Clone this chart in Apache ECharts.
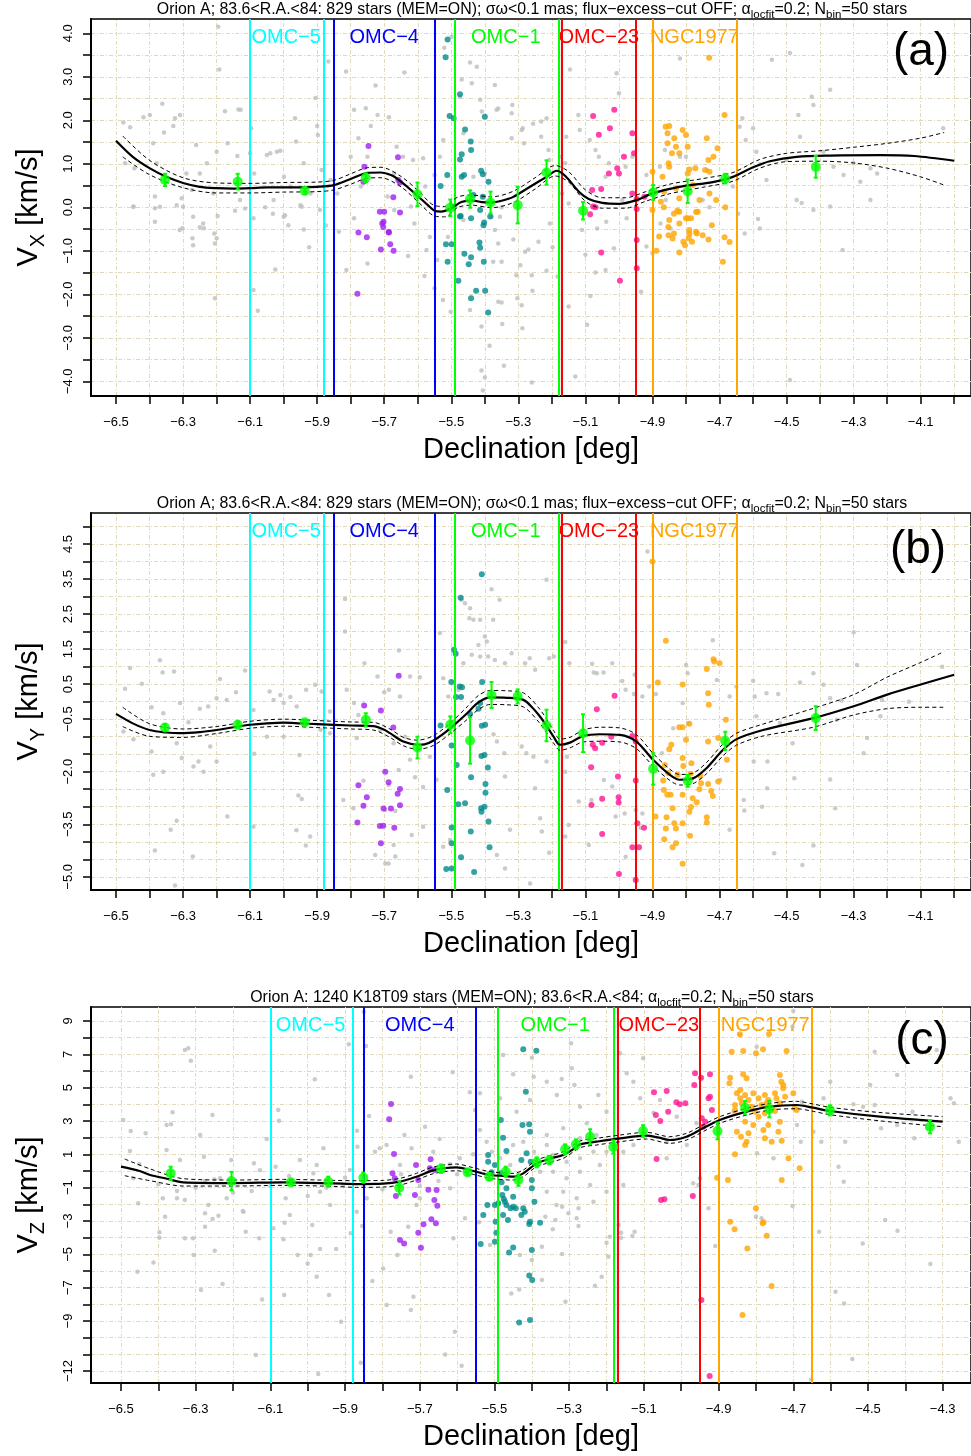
<!DOCTYPE html>
<html><head><meta charset="utf-8">
<script src="https://cdn.jsdelivr.net/npm/echarts@6/dist/echarts.min.js"></script>
<style>html,body{margin:0;padding:0;background:#fff}#c{width:971px;height:1456px}</style>
</head><body><div id="c"></div>
<script>
const FONT = '"Liberation Sans", Arial, Helvetica, sans-serif';

// ---------- tick labels ----------
const xTicksAB = [-6.5,-6.4,-6.3,-6.2,-6.1,-6.0,-5.9,-5.8,-5.7,-5.6,-5.5,-5.4,-5.3,-5.2,-5.1,-5.0,-4.9,-4.8,-4.7,-4.6,-4.5,-4.4,-4.3,-4.2,-4.1,-4.0];
const xLabelsAB = [-6.5,-6.3,-6.1,-5.9,-5.7,-5.5,-5.3,-5.1,-4.9,-4.7,-4.5,-4.3,-4.1];
const xTicksC = [-6.5,-6.4,-6.3,-6.2,-6.1,-6.0,-5.9,-5.8,-5.7,-5.6,-5.5,-5.4,-5.3,-5.2,-5.1,-5.0,-4.9,-4.8,-4.7,-4.6,-4.5,-4.4,-4.3];
const xLabelsC = [-6.5,-6.3,-6.1,-5.9,-5.7,-5.5,-5.3,-5.1,-4.9,-4.7,-4.5,-4.3];
const yTicksA = [-4,-3.5,-3,-2.5,-2,-1.5,-1,-0.5,0,0.5,1,1.5,2,2.5,3,3.5,4];
const yLabelsA = [-4,-3,-2,-1,0,1,2,3,4];
const yTicksB = [-5,-4.5,-4,-3.5,-3,-2.5,-2,-1.5,-1,-0.5,0,0.5,1,1.5,2,2.5,3,3.5,4,4.5,5];
const yLabelsB = [4.5,3.5,2.5,1.5,0.5,-0.5,-2,-3.5,-5];
const yTicksC = [-12,-11,-10,-9,-8,-7,-6,-5,-4,-3,-2,-1,0,1,2,3,4,5,6,7,8,9];
const yLabelsC = [9,7,5,3,1,-1,-3,-5,-7,-9,-12];

// ---------- regions ----------
const regionNames = ['OMC−5','OMC−4','OMC−1','OMC−23','NGC1977'];
const regionColors = ['#00FFFF','#0000FF','#00FF00','#FF0000','#FFA500'];
const regionStart = [-6.1,-5.85,-5.49,-5.175,-4.9];
const regionEnd = [-5.885,-5.55,-5.185,-4.945,-4.65];

// ---------- panel (a) ----------
const greyA = [[-6.478,1.95],[-6.458,1.84],[-6.418,2.07],[-6.399,2.12],[-6.362,2.38],[-6.357,1.72],[-6.329,1.87],[-6.309,2.12],[-6.324,2.05],[-6.445,0.90],[-6.473,1.01],[-6.389,1.47],[-6.379,1.01],[-6.195,4.15],[-6.192,3.17],[-6.261,1.43],[-6.229,1.01],[-6.2,1.28],[-6.175,2.21],[-6.167,1.47],[-6.135,2.25],[-6.128,2.24],[-6.138,1.18],[-6.21,0.32],[-6.25,0.78],[-6.274,0.40],[-6.304,0.21],[-6.384,0.25],[-6.448,0.02],[-6.1,1.24],[-6.097,1.82],[-6.05,1.2],[-6.04,1.24],[-6.02,1.28],[-6.01,1.3],[-5.966,2.05],[-5.963,1.51],[-5.94,1.01],[-5.905,2.51],[-5.9,1.87],[-5.898,1.66],[-5.867,3.35],[-5.887,0.86],[-5.814,3.12],[-5.79,2.24],[-5.755,2.28],[-5.726,2.80],[-5.72,2.12],[-5.686,2.07],[-5.74,1.87],[-5.777,1.59],[-5.64,3.10],[-5.663,1.39],[-5.644,1.16],[-5.614,1.09],[-5.584,1.13],[-5.521,3.67],[-5.499,3.92],[-5.444,3.33],[-5.469,2.94],[-5.439,2.85],[-5.474,2.54],[-5.414,2.47],[-5.424,3.23],[-5.409,2.2],[-5.464,1.70],[-5.524,1.55],[-5.534,1.16],[-5.75,1.16],[-5.8,1.16],
[-6.088,0.78],[-5.999,0.70],[-5.98,0.48],[-5.92,0.32],[-5.86,0.63],[-5.84,0.32],[-5.69,0.25],[-5.62,0.02],[-5.55,0.74],[-5.578,0.48],[-5.434,0.70],[-5.4,0.78],[-6.29,0.78],[-6.13,0.17],[-6.03,0.17],[-5.95,0.05],[-5.77,0.48],[-5.67,0.78],
[-6.448,0.01],[-6.384,-0.02],[-6.369,0.01],[-6.384,-0.33],[-6.319,0.05],[-6.3,0.01],[-6.302,-0.48],[-6.31,-0.52],[-6.27,-0.22],[-6.272,-0.71],[-6.27,-0.87],[-6.25,-0.46],[-6.24,-0.37],[-6.238,-0.48],[-6.207,-0.6],[-6.2,-0.71],[-6.205,-0.83],[-6.205,-2.09],[-6.197,-0.2],[-6.145,-0.08],[-6.115,-0.03],[-6.09,-0.25],[-6.09,-1.9],[-6.077,-2.38],[-6.055,0],[-6.032,-0.15],[-6.0,-0.22],[-5.996,-0.18],[-5.986,-0.41],[-6.025,-1.43],[-5.946,0.01],[-5.94,-0.51],[-5.924,-0.92],[-5.892,-0.06],[-5.874,-0.42],[-5.835,-0.56],[-5.813,-1.44],[-5.79,-0.25],[-5.75,-1.29],[-5.67,-0.06],[-5.629,-1.12],[-5.61,-0.37],[-5.58,-1.58],[-5.55,-1.86],[-5.525,-2.13],[-5.574,-0.98],[-5.564,-0.68],[-5.542,-1.21],[-5.502,-2.4],[-5.51,-0.68],[-5.41,-2.74],[-5.41,-3.75],[-5.4,-3.91],[-5.406,-4.21],[-5.386,-3.18],[-5.38,-0.22],[-5.464,-0.29],[-5.444,-2.36],
[-5.37,2.81],[-5.365,2.24],[-5.36,2.27],[-5.32,2.16],[-5.318,2.35],[-5.32,1.59],[-5.29,1.78],[-5.287,1.82],[-5.283,1.47],[-5.256,1.92],[-5.232,1.97],[-5.232,1.62],[-5.216,2.05],[-5.21,1.32],[-5.208,1.09],[-5.176,1.16],[-5.16,1.01],[-5.146,3.17],[-5.157,1.62],[-5.121,2.12],[-5.117,1.78],[-5.087,1.55],[-5.07,1.32],[-5.06,1.16],[-5.04,0.7],[-5.03,1.01],[-5.007,3.08],[-5.0,2.62],[-4.98,0.93],[-4.96,1.16],[-4.918,0.74],[-4.878,0.93],[-4.863,1.32],[-4.818,3.42],[-4.818,1.16],[-4.8,1.16],[-4.738,0.86],[-4.64,1.85],[-4.632,2.05],[-4.622,1.55],[-4.6,1.82],[-4.59,1.28],[-4.58,0.99],[-4.544,3.39],[-4.49,3.55],[-4.5,1.09],[-4.46,1.62],[-4.465,2.12],[-4.425,2.54],[-4.37,2.7],[-4.42,2.35],[-4.39,1.28],[-4.36,0.93],[-4.33,0.74],[-4.3,1.01],[-4.28,0.59],[-4.25,0.9],[-4.23,0.78],[-4.033,1.82],[-5.17,0.32],[-5.15,0.09],[-4.99,0.17],[-4.86,0.17],[-4.75,0.17],[-4.66,0.48],[-4.56,0.63],[-4.47,0.17],[-4.37,0.02],[-4.25,0.17],
[-5.355,-0.22],[-5.35,0.0],[-5.37,-0.52],[-5.36,-0.83],[-5.375,-1.25],[-5.35,-1.25],[-5.36,-2.17],[-5.35,-2.19],[-5.348,-2.68],[-5.343,-3.64],[-5.306,-1.56],[-5.303,-2.09],[-5.29,-2.25],[-5.288,-2.78],[-5.315,-0.74],[-5.294,-1.33],[-5.28,-1.02],[-5.27,-0.97],[-5.26,-1.56],[-5.26,-4.03],[-5.258,-1.92],[-5.24,-0.79],[-5.216,-1.46],[-5.206,-0.37],[-5.198,-0.92],[-5.183,-1.59],[-5.15,-2.28],[-5.13,-3.89],[-5.11,-0.52],[-5.1,-1.09],[-5.095,-2.7],[-5.085,-2.04],[-5.07,-1.5],[-5.065,-0.49],[-5.04,-1.44],[-5.038,-0.33],[-5.015,-0.94],[-4.977,-0.25],[-4.934,-1.94],[-4.918,-0.9],[-4.9,-1.06],[-4.876,-0.37],[-4.846,-0.49],[-4.73,0.0],[-4.645,-0.15],[-4.625,-0.6],[-4.585,-0.27],[-4.58,-0.49],[-4.49,-3.97],[-4.42,-0.06],[-4.333,-0.98],[-4.455,0.1]];
const purpleA = [[-5.747,1.41],[-5.759,0.93],[-5.659,1.15],[-5.658,0.63],[-5.653,0.57],[-5.762,0.59],[-5.673,0.23],[-5.777,-0.58],[-5.752,-0.69],[-5.702,-0.33],[-5.687,-0.57],[-5.713,-0.1],[-5.7,-0.1],[-5.706,-0.37],[-5.703,-0.45],[-5.686,-0.58],[-5.653,-0.12],[-5.682,-0.85],[-5.71,-0.97],[-5.672,-1.0],[-5.78,-1.99]];
const tealA = [[-5.511,3.86],[-5.517,3.45],[-5.474,2.6],[-5.505,2.1],[-5.493,2.05],[-5.459,1.79],[-5.442,1.51],[-5.441,1.32],[-5.469,1.22],[-5.474,1.1],[-5.4,2.08],[-5.411,0.84],[-5.532,0.49],[-5.512,0.74],[-5.469,0.7],[-5.462,0.74],[-5.434,0.28],[-5.474,-0.21],[-5.441,-0.25],[-5.414,-0.06],[-5.404,-0.41],[-5.384,-0.21],[-5.493,0.02],[-5.516,-0.85],[-5.499,-0.85],[-5.511,-1.25],[-5.479,-1.69],[-5.461,-1.07],[-5.441,-1.15],[-5.448,-1.31],[-5.416,-0.81],[-5.414,-0.93],[-5.403,-1.25],[-5.441,-2.09],[-5.426,-1.92],[-5.39,-2.42],[-5.402,-0.35],[-5.472,-0.2],[-5.406,0.76],[-5.406,0.24],[-5.389,0.59],[-5.399,-1.92]];
const pinkA = [[-5.077,2.1],[-5.014,2.24],[-5.027,1.82],[-5.06,1.67],[-4.96,1.7],[-4.955,1.24],[-4.985,1.16],[-5.005,0.9],[-5.03,0.78],[-5.0,0.78],[-5.053,0.42],[-5.08,0.4],[-4.96,0.32],[-4.947,0.19],[-5.077,0.02],[-4.947,-0.04],[-4.924,0.24],[-4.947,-0.75],[-5.086,-0.16],[-5.07,0.0],[-5.053,-1.04],[-4.947,-1.4],[-4.997,-1.69]];
const orangeA = [[-4.731,3.44],[-4.685,2.12],[-4.861,1.85],[-4.85,1.87],[-4.855,1.7],[-4.855,1.47],[-4.835,1.59],[-4.81,1.78],[-4.8,1.66],[-4.795,1.39],[-4.83,1.39],[-4.842,1.24],[-4.82,1.24],[-4.738,1.59],[-4.706,1.36],[-4.718,1.16],[-4.733,1.09],[-4.743,0.86],[-4.73,0.82],[-4.852,1.01],[-4.85,0.93],[-4.79,0.87],[-4.772,0.9],[-4.795,0.78],[-4.9,0.82],[-4.87,0.7],[-4.83,0.44],[-4.78,0.51],[-4.73,0.32],[-4.865,0.36],[-4.875,0.13],[-4.9,0.32],[-4.9,-0.06],[-4.71,0.17],[-4.82,0.21],[-4.76,0.17],[-4.82,-0.1],[-4.77,-0.11],[-4.683,0.0],[-4.85,-0.29],[-4.795,-0.25],[-4.79,-0.52],[-4.77,-0.56],[-4.852,-0.64],[-4.79,-0.61],[-4.685,-0.69],[-4.88,-0.67],[-4.888,-1.0],[-4.853,-0.45],[-4.836,-0.6],[-4.84,-0.72],[-4.82,-1.04],[-4.808,-0.79],[-4.803,-0.87],[-4.792,-0.71],[-4.782,-0.79],[-4.768,-0.6],[-4.75,-0.64],[-4.733,-0.74],[-4.723,-0.41],[-4.69,-1.25],[-4.67,-0.8],[-4.866,0.0],[-4.836,-0.15],[-4.826,-0.08],[-4.8,-0.25],[-4.82,-0.37],[-4.785,-0.25],[-4.765,-0.1]];
const curveA = [[-6.5,1.53],[-6.45,1.16],[-6.4,0.9],[-6.35,0.70],[-6.3,0.56],[-6.25,0.47],[-6.2,0.44],[-6.15,0.43],[-6.1,0.44],[-6.05,0.46],[-6.0,0.46],[-5.95,0.46],[-5.9,0.47],[-5.85,0.51],[-5.8,0.65],[-5.75,0.79],[-5.71,0.80],[-5.68,0.74],[-5.65,0.59],[-5.6,0.26],[-5.57,0.05],[-5.55,-0.08],[-5.53,-0.10],[-5.5,-0.02],[-5.47,0.12],[-5.44,0.16],[-5.41,0.12],[-5.38,0.11],[-5.35,0.15],[-5.315,0.24],[-5.27,0.45],[-5.216,0.70],[-5.186,0.84],[-5.16,0.72],[-5.117,0.34],[-5.09,0.19],[-5.05,0.10],[-5.0,0.08],[-4.95,0.16],[-4.9,0.32],[-4.82,0.47],[-4.72,0.58],[-4.66,0.70],[-4.6,0.92],[-4.55,1.06],[-4.47,1.16],[-4.37,1.19],[-4.22,1.2],[-4.12,1.18],[-4.0,1.07]];
const bandXA = [-6.48,-6.4,-6.3,-6.2,-6.1,-6.0,-5.9,-5.85,-5.8,-5.75,-5.71,-5.65,-5.6,-5.55,-5.52,-5.48,-5.44,-5.38,-5.315,-5.25,-5.19,-5.15,-5.1,-5.05,-4.98,-4.92,-4.85,-4.75,-4.66,-4.58,-4.5,-4.4,-4.3,-4.2,-4.1,-4.03];
const upA = [1.64,1.08,0.68,0.56,0.55,0.57,0.58,0.62,0.77,0.91,0.92,0.71,0.39,0.04,0.02,0.24,0.28,0.24,0.37,0.68,0.96,0.82,0.40,0.22,0.22,0.36,0.53,0.66,0.80,1.1,1.24,1.3,1.38,1.47,1.59,1.72];
const loA = [1.16,0.75,0.45,0.33,0.33,0.35,0.36,0.40,0.53,0.67,0.68,0.47,0.13,-0.2,-0.22,0.0,0.05,-0.01,0.11,0.42,0.72,0.58,0.14,-0.02,-0.02,0.14,0.31,0.46,0.60,0.9,1.05,1.06,1.02,0.9,0.70,0.51];
const meansA = [[-6.354,0.63,0.14],[-6.137,0.59,0.18],[-5.937,0.38,0.08],[-5.755,0.68,0.1],[-5.601,0.30,0.27],[-5.503,-0.01,0.19],[-5.444,0.19,0.2],[-5.383,0.11,0.25],[-5.302,0.05,0.42],[-5.216,0.80,0.28],[-5.107,-0.08,0.2],[-4.898,0.34,0.17],[-4.795,0.37,0.27],[-4.683,0.66,0.11],[-4.413,0.93,0.25]];

// ---------- panel (b) ----------
const greyB = [[-6.473,0.37],[-6.458,0.96],[-6.423,0.51],[-6.394,-0.16],[-6.369,1.18],[-6.361,0.83],[-6.327,0.86],[-6.359,-0.33],[-6.309,-0.04],[-6.284,-0.59],[-6.25,-0.2],[-6.225,-0.14],[-6.19,0.65],[-6.2,0.1],[-6.17,0.05],[-6.142,0.27],[-6.115,0.89],[-6.09,-0.24],[-6.042,0.29],[-6.03,0.05],[-6.01,0.19],[-6.0,-0.04],[-5.98,0.13],[-5.961,-0.14],[-5.933,0.34],[-5.906,0.48],[-5.887,0.29],[-5.862,-0.28],[-5.817,2.93],[-5.817,2.0],[-5.812,0.34],[-5.79,-0.04],[-5.759,1.1],[-5.72,0.72],[-5.7,0.27],[-5.686,0.34],[-5.656,1.46],[-5.653,0.15],[-5.623,0.72],[-5.594,0.7],[-5.534,1.96],[-5.524,0.67],[-5.469,2.91],[-5.459,2.81],[-5.444,2.67],[-5.446,2.38],[-5.434,2.34],[-5.414,2.34],[-5.419,1.62],[-5.414,1.29],[-5.439,1.34],[-5.464,1.1],[-5.394,1.72],[-5.479,0.34],[-5.509,0.15],
[-6.478,-0.85],[-6.448,-1.07],[-6.394,-1.42],[-6.389,-2.09],[-6.359,-2.0],[-6.319,-1.19],[-6.304,-1.61],[-6.269,-1.85],[-6.254,-1.71],[-6.239,-2.0],[-6.219,-1.28],[-6.2,-1.71],[-6.319,-3.4],[-6.337,-3.66],[-6.384,-4.25],[-6.324,-5.25],[-6.271,-4.42],[-6.168,-3.28],[-6.09,-3.57],[-6.088,-1.49],[-6.05,-1.0],[-6.0,-1.0],[-5.953,-1.52],[-5.956,-2.68],[-5.946,-2.78],[-5.962,-3.67],[-5.934,-4.11],[-5.921,-3.85],[-5.89,-0.8],[-5.862,-0.9],[-5.822,-2.81],[-5.792,-3.04],[-5.782,-1.04],[-5.762,-2.26],[-5.727,-4.38],[-5.697,-4.62],[-5.687,-4.62],[-5.672,-4.09],[-5.667,-4.42],[-5.657,-1.95],[-5.687,-2.38],[-5.697,-3.09],[-5.667,-3.12],[-5.623,-1.66],[-5.608,-2.16],[-5.584,-2.44],[-5.618,-3.81],[-5.584,-3.57],[-5.524,-4.14],[-5.544,-2.23],[-5.564,-1.57],[-5.504,-3.95],[-5.638,-1.0],[-5.672,-1.19],[-5.712,-0.81],[-5.777,-0.38],
[-5.38,3.21],[-5.356,2.91],[-5.375,2.34],[-5.216,3.48],[-5.4,1.86],[-5.39,1.29],[-5.37,1.19],[-5.34,1.1],[-5.32,1.38],[-5.28,1.1],[-5.266,1.24],[-5.25,0.91],[-5.208,1.24],[-5.194,1.29],[-5.16,1.7],[-5.148,1.1],[-5.08,1.08],[-5.075,0.83],[-5.066,0.81],[-5.046,0.83],[-5.02,1.1],[-4.99,0.59],[-4.98,0.34],[-4.955,0.22],[-4.953,0.77],[-4.93,0.15],[-4.915,4.29],[-4.91,0.43],[-4.89,0.22],[-4.8,1.05],[-4.795,0.81],[-4.81,-0.04],[-4.72,1.75],[-4.708,0.62],[-4.67,0.15],[-4.65,0.43],[-4.6,0.6],[-4.595,0.15],[-4.59,-0.42],[-4.56,0.24],[-4.525,0.22],[-4.46,0.55],[-4.42,0.81],[-4.37,0.1],[-4.336,0.03],[-4.3,1.98],[-4.29,1.05],[-4.215,0.05],[-4.135,0.0],[-4.036,1.0],[-4.39,0.48],[-4.52,-0.61],
[-5.374,-0.93],[-5.364,-1.14],[-5.364,-4.38],[-5.342,-1.47],[-5.34,-2.14],[-5.34,-4.76],[-5.325,-3.66],[-5.29,-1.28],[-5.276,-1.47],[-5.255,-1.57],[-5.25,-2.47],[-5.235,-3.33],[-5.23,-3.71],[-5.265,-5.19],[-5.216,-1.71],[-5.208,-4.31],[-5.16,-3.85],[-5.15,-3.52],[-5.16,-2.0],[-5.155,-1.57],[-5.12,-2.85],[-5.09,-4.09],[-5.082,-2.81],[-5.045,-2.24],[-5.02,-2.42],[-5.01,-3.28],[-4.983,-3.19],[-4.95,-3.09],[-4.93,-3.19],[-4.935,-3.6],[-4.98,-4.43],[-4.872,-1.47],[-4.838,-0.76],[-4.793,-0.62],[-4.698,-2.24],[-4.67,-3.66],[-4.628,-2.81],[-4.626,-3.11],[-4.598,-1.71],[-4.573,-3.0],[-4.557,-1.71],[-4.558,-2.47],[-4.537,-4.33],[-4.477,-2.19],[-4.482,-1.19],[-4.453,-4.66],[-4.42,-4.11],[-4.37,-2.22],[-4.355,-3.04],[-4.27,-1.47],[-4.26,-1.04],[-4.35,-0.52],[-4.22,-0.42]];
const purpleB = [[-5.76,-0.11],[-5.71,-0.25],[-5.657,0.74],[-5.673,-0.74],[-5.697,-2.0],[-5.777,-2.39],[-5.752,-2.73],[-5.762,-2.97],[-5.687,-2.3],[-5.653,-2.49],[-5.66,-2.63],[-5.653,-2.96],[-5.702,-3.05],[-5.68,-3.05],[-5.78,-3.45],[-5.713,-3.55],[-5.703,-3.54],[-5.67,-3.6],[-5.71,-4.04]];
const tealB = [[-5.409,3.64],[-5.472,2.97],[-5.492,1.48],[-5.487,1.37],[-5.475,0.43],[-5.468,0.41],[-5.5,0.56],[-5.408,0.56],[-5.471,0.13],[-5.486,0.13],[-5.414,-0.04],[-5.419,-0.2],[-5.532,-0.68],[-5.399,-0.66],[-5.444,-0.35],[-5.499,-1.25],[-5.484,-1.81],[-5.401,-1.52],[-5.391,-1.88],[-5.512,-2.52],[-5.479,-2.93],[-5.459,-2.9],[-5.441,-2.16],[-5.411,-3.04],[-5.401,-3.0],[-5.398,-2.35],[-5.398,-2.6],[-5.389,-3.42],[-5.499,-3.59],[-5.499,-4.04],[-5.442,-3.71],[-5.386,-4.16],[-5.471,-4.44],[-5.515,-4.78],[-5.499,-4.76],[-5.432,-4.86],[-5.409,-0.69],[-5.41,-1.55],[-5.41,-3.14]];
const pinkB = [[-5.013,0.17],[-5.066,-0.22],[-4.96,-0.98],[-5.023,-1.0],[-5.05,-1.17],[-5.078,-1.23],[-5.071,-1.33],[-4.95,-1.14],[-5.083,-1.87],[-5.003,-2.14],[-4.95,-2.25],[-5.05,-2.77],[-5.001,-2.73],[-5.001,-2.88],[-5.082,-2.95],[-4.945,-3.47],[-4.925,-3.6],[-5.05,-3.78],[-4.96,-4.16],[-4.94,-4.16],[-5.0,-4.92],[-4.95,-5.09]];
const orangeB = [[-4.9,4.0],[-4.86,1.74],[-4.884,0.55],[-4.81,0.49],[-4.734,0.24],[-4.732,-0.09],[-4.738,0.93],[-4.718,1.21],[-4.716,1.15],[-4.7,1.1],[-4.681,-0.52],[-4.82,-0.73],[-4.81,-0.73],[-4.79,-0.63],[-4.8,-1.09],[-4.734,-1.14],[-4.704,-1.04],[-4.678,-1.66],[-4.81,-1.61],[-4.844,-1.23],[-4.85,-1.36],[-4.784,-1.76],[-4.808,-1.84],[-4.863,-1.81],[-4.853,-2.04],[-4.868,-2.25],[-4.825,-2.09],[-4.786,-2.06],[-4.757,-2.12],[-4.755,-2.33],[-4.734,-2.35],[-4.704,-2.28],[-4.76,-2.5],[-4.725,-2.55],[-4.72,-2.69],[-4.866,-2.52],[-4.846,-2.66],[-4.856,-2.66],[-4.81,-2.66],[-4.78,-2.76],[-4.768,-2.87],[-4.84,-3.04],[-4.785,-3.01],[-4.79,-3.14],[-4.891,-3.28],[-4.858,-3.3],[-4.81,-3.47],[-4.835,-3.47],[-4.83,-3.62],[-4.738,-3.3],[-4.738,-3.45],[-4.86,-3.62],[-4.865,-3.93],[-4.788,-3.83],[-4.83,-4.04],[-4.84,-4.16],[-4.81,-4.63]];
const curveB = [[-6.5,-0.35],[-6.45,-0.62],[-6.4,-0.81],[-6.35,-0.88],[-6.31,-0.90],[-6.25,-0.87],[-6.2,-0.81],[-6.15,-0.73],[-6.1,-0.66],[-6.05,-0.62],[-6.0,-0.60],[-5.95,-0.62],[-5.9,-0.64],[-5.8,-0.68],[-5.733,-0.70],[-5.7,-0.80],[-5.683,-0.90],[-5.643,-1.14],[-5.6,-1.23],[-5.58,-1.22],[-5.553,-1.11],[-5.503,-0.76],[-5.453,-0.33],[-5.42,-0.03],[-5.384,0.12],[-5.334,0.11],[-5.285,0.05],[-5.26,-0.15],[-5.235,-0.43],[-5.216,-0.69],[-5.195,-1.0],[-5.176,-1.23],[-5.146,-1.17],[-5.107,-0.98],[-5.057,-0.93],[-4.997,-0.95],[-4.948,-1.14],[-4.898,-1.66],[-4.848,-2.09],[-4.819,-2.23],[-4.779,-2.19],[-4.739,-1.90],[-4.69,-1.38],[-4.649,-1.07],[-4.57,-0.81],[-4.42,-0.47],[-4.3,-0.13],[-4.2,0.2],[-4.1,0.49],[-4.0,0.77]];
const bandXB = [-6.48,-6.4,-6.3,-6.2,-6.1,-6.0,-5.9,-5.8,-5.733,-5.683,-5.643,-5.6,-5.553,-5.503,-5.453,-5.42,-5.384,-5.334,-5.285,-5.235,-5.195,-5.176,-5.146,-5.107,-5.057,-4.997,-4.948,-4.898,-4.848,-4.819,-4.779,-4.739,-4.69,-4.649,-4.57,-4.42,-4.3,-4.2,-4.1,-4.03];
const upB = [-0.16,-0.63,-0.78,-0.71,-0.56,-0.50,-0.54,-0.58,-0.59,-0.78,-1.02,-1.10,-0.97,-0.61,-0.15,0.17,0.32,0.31,0.25,-0.23,-0.82,-1.07,-1.02,-0.81,-0.73,-0.75,-0.94,-1.48,-1.93,-2.08,-2.04,-1.74,-1.21,-0.90,-0.64,-0.19,0.2,0.7,1.12,1.43];
const loB = [-0.71,-0.99,-1.02,-0.91,-0.76,-0.70,-0.74,-0.78,-0.81,-1.02,-1.26,-1.36,-1.25,-0.91,-0.51,-0.23,-0.08,-0.09,-0.15,-0.63,-1.18,-1.39,-1.32,-1.15,-1.13,-1.15,-1.34,-1.84,-2.25,-2.38,-2.34,-2.06,-1.55,-1.24,-0.98,-0.73,-0.38,-0.2,-0.16,-0.16];
const meansB = [[-6.354,-0.74,0.1],[-6.137,-0.66,0.1],[-5.937,-0.59,0.07],[-5.755,-0.52,0.19],[-5.601,-1.31,0.31],[-5.503,-0.66,0.24],[-5.444,-1.11,0.66],[-5.38,0.19,0.37],[-5.302,0.15,0.2],[-5.216,-0.68,0.45],[-5.107,-0.90,0.54],[-4.898,-1.92,0.45],[-4.795,-2.26,0.17],[-4.683,-1.12,0.26],[-4.413,-0.47,0.34]];

// ---------- panel (c) ----------
const greyC = [[-6.494,3.06],[-6.474,2.4],[-6.434,2.26],[-6.476,1.2],[-6.451,0.42],[-6.467,-0.44],[-6.454,-1.94],[-6.378,2.76],[-6.366,2.8],[-6.362,3.52],[-6.378,1.26],[-6.329,7.26],[-6.32,7.36],[-6.313,6.62],[-6.388,-1.64],[-6.35,-1.64],[-6.342,0.66],[-6.329,-1.74],[-6.382,-2.74],[-6.288,2.16],[-6.278,0.86],[-6.275,-0.6],[-6.255,3.36],[-6.266,-2.04],[-6.235,-0.44],[-6.217,-1.64],[-6.205,0.66],[-6.172,-2.44],[-6.144,0.46],[-6.11,1.92],[-6.128,0.04],[-6.086,0.26],[-6.079,3.66],[-6.077,3.02],[-6.059,-1.64],[-6.021,0.66],[-5.985,-0.14],[-5.981,5.5],[-5.976,0.36],[-5.958,1.36],[-5.94,-2.04],[-5.905,-0.84],[-5.89,7.6],[-5.867,1.46],[-5.868,2.42],[-5.85,9.56],[-5.844,7.5],[-5.836,3.3],[-5.82,1.16],[-5.807,1.36],[-5.789,1.56],[-5.724,5.66],[-5.741,2.16],[-5.722,1.36],[-5.686,2.66],[-5.664,1.16],[-5.647,1.92],[-5.612,5.92],[-5.566,4.72],[-5.552,3.66],[-5.539,2.46],[-5.521,1.76],[-5.557,1.0],[-5.593,0.76],[-5.539,4.66],[-5.887,0.06],[-5.753,0.36],[-5.619,-1.04],[-5.842,-1.64],[-5.7,-1.64],[-5.967,-1.24],[-6.048,-2.64],
[-6.4,-0.8],[-6.3,-1.0],[-6.25,-0.5],[-6.15,-1.2],[-6.05,-0.3],[-5.95,-1.0],[-5.9,-0.4],[-5.8,-1.1],[-5.75,-0.2],[-5.65,-0.6],[-5.6,-0.2],[-6.2,-1.3],[-6.1,-0.9],[-6.0,-1.5],[-5.85,-0.9],[-5.7,-0.9],[-5.62,0.4],[-6.35,-1.2],
[-6.456,-6.04],[-6.413,-5.48],[-6.397,-4.0],[-6.397,-3.68],[-6.329,-4.04],[-6.307,-4.04],[-6.305,-5.04],[-6.286,-7.14],[-6.275,-3.34],[-6.275,-2.54],[-6.255,-2.88],[-6.249,-4.78],[-6.239,-2.68],[-6.228,-6.78],[-6.174,-2.4],[-6.166,-3.64],[-6.13,-4.04],[-6.122,-7.7],[-6.139,-11.04],[-6.092,-3.44],[-6.065,-4.1],[-6.063,-7.44],[-6.062,-3.1],[-6.027,-5.04],[-6.0,-5.54],[-5.992,-5.04],[-5.988,-3.24],[-5.976,-6.34],[-5.972,-12.18],[-5.967,-4.68],[-5.943,-7.44],[-5.924,-4.68],[-5.911,-9.04],[-5.885,-3.74],[-5.869,-2.44],[-5.858,-11.5],[-5.854,-3.3],[-5.827,-6.6],[-5.798,-5.84],[-5.789,-8.04],[-5.778,-3.64],[-5.76,-5.04],[-5.731,-3.34],[-5.724,-8.34],[-5.717,-7.54],[-5.709,-2.04],[-5.632,-11.0],[-5.61,-4.04],[-5.606,-9.64],[-5.588,-11.68],[-5.579,-2.84],[-5.541,-3.08],[-5.512,-4.44],
[-5.477,6.96],[-5.4,6.8],[-5.45,5.8],[-5.395,5.66],[-5.32,5.52],[-5.295,7.66],[-5.293,6.16],[-5.405,4.26],[-5.36,5.36],[-5.333,4.56],[-5.286,5.16],[-5.271,3.86],[-5.253,2.86],[-5.222,4.56],[-5.2,3.56],[-5.164,7.06],[-5.102,6.76],[-5.146,5.86],[-5.128,5.36],[-5.11,4.36],[-5.074,3.5],[-5.057,4.26],[-5.012,3.26],[-4.959,2.86],[-4.968,-0.74],[-4.954,-0.84],[-4.95,-0.44],[-4.843,8.16],[-4.798,7.46],[-4.7,9.6],[-4.702,8.66],[-4.677,4.16],[-4.69,2.76],[-4.646,2.36],[-4.601,5.36],[-4.619,4.36],[-4.539,4.0],[-4.561,1.76],[-4.494,5.16],[-4.579,0.26],[-4.565,-0.64],[-4.422,5.76],[-4.381,3.56],[-4.341,2.56],[-4.279,4.36],[-4.27,4.06],[-4.257,1.76],[-4.482,7.16],[-4.316,7.26],[-4.482,3.96],[-4.513,3.86],[-4.422,2.76],[-4.465,2.56],[-4.376,1.96],[-4.86,3.56],[-4.797,1.06],[-4.753,0.76],[-4.68,1.76],[-4.625,1.76],[-5.507,1.16],[-5.45,1.56],[-5.36,2.16],[-5.316,2.56],[-5.271,1.96],[-5.227,2.16],[-5.36,1.56],[-5.343,0.96],[-5.307,0.56],[-5.271,0.76],[-5.235,1.16],[-5.378,-0.04],[-5.343,-0.04],[-5.307,-0.44],[-5.271,-0.04],[-5.244,-0.84],[-5.218,0.36],[-5.2,1.16],[-5.316,-1.24],[-5.28,-1.64],[-5.235,-1.84],[-5.36,-1.24],[-5.334,-2.04],[-5.28,-2.84],[-5.2,-1.24],[-5.155,-0.84],[-5.155,1.16],[-5.128,1.56],[-5.039,0.76],[-4.985,1.56],[-5.039,1.76],[-5.423,1.76],[-5.394,1.16],[-5.458,0.36],[-5.485,0.76],[-5.441,3.56],[-5.485,4.36],
[-5.432,-5.04],[-5.434,-7.1],[-5.455,-7.34],[-5.373,-6.54],[-5.373,-4.54],[-5.4,-5.34],[-5.344,-3.5],[-5.319,-4.98],[-5.31,-7.84],[-5.275,-3.3],[-5.231,-6.88],[-5.213,-6.34],[-5.2,-4.3],[-5.195,-5.14],[-5.191,-3.94],[-5.168,-3.24],[-5.161,-3.7],[-5.161,-4.0],[-5.131,-3.9],[-5.125,-3.64],[-4.927,-2.24],[-4.909,-4.5],[-4.8,-2.74],[-4.785,-2.84],[-4.702,-2.1],[-4.631,-3.64],[-4.587,-7.24],[-4.564,-7.94],[-4.542,-11.28],[-4.652,-12.5],[-4.514,-4.34],[-4.454,-2.94],[-4.421,-3.58],[-4.333,-5.58],[-5.275,-2.24],[-5.302,-2.54],[-5.364,-2.74],[-5.319,-2.14],[-5.337,-2.94]];
const purpleC = [[-5.777,4.02],[-5.782,3.1],[-5.769,1.02],[-5.773,-0.14],[-5.767,-0.44],[-5.764,-1.5],[-5.71,0.36],[-5.671,0.7],[-5.704,-0.54],[-5.673,0.16],[-5.66,0.06],[-5.677,-1.12],[-5.713,-1.44],[-5.655,-1.14],[-5.661,-1.74],[-5.653,-2.08],[-5.69,-3.2],[-5.669,-2.9],[-5.657,-3.14],[-5.704,-3.7],[-5.753,-4.14],[-5.742,-4.34],[-5.697,-4.6]];
const tealC = [[-5.517,0.96],[-5.519,-2.04],[-5.537,-4.38],[-5.423,7.3],[-5.388,7.22],[-5.416,4.76],[-5.483,3.06],[-5.477,2.0],[-5.425,2.76],[-5.407,2.8],[-5.405,2.36],[-5.468,1.2],[-5.414,1.06],[-5.428,0.66],[-5.403,0.56],[-5.517,0.56],[-5.499,0.36],[-5.508,-0.08],[-5.484,-0.14],[-5.481,-0.68],[-5.468,-1.04],[-5.479,-1.44],[-5.475,-1.68],[-5.45,-1.54],[-5.49,-1.94],[-5.468,-2.04],[-5.45,-2.14],[-5.443,-2.24],[-5.499,-2.04],[-5.423,-2.24],[-5.4,-0.54],[-5.4,-1.04],[-5.428,-2.64],[-5.405,-3.04],[-5.477,-2.64],[-5.497,-3.04],[-5.53,-2.64],[-5.472,-1.84],[-5.457,-2.24],[-5.464,-2.94],[-5.495,-3.7],[-5.499,-4.24],[-5.45,-4.58],[-5.461,-4.88],[-5.419,-2.44],[-5.407,-3.18],[-5.378,-3.1],[-5.4,-4.74],[-5.407,-6.26],[-5.399,-6.54],[-5.434,-9.08],[-5.405,-8.94],[-5.393,-1.84]];
const pinkC = [[-4.963,5.86],[-4.947,5.6],[-4.923,5.8],[-4.965,5.16],[-5.039,4.8],[-5.073,4.72],[-5.013,4.12],[-5.004,4.0],[-4.989,4.06],[-4.923,4.46],[-4.927,4.36],[-5.068,3.36],[-5.035,3.56],[-5.056,3.0],[-4.918,3.66],[-4.945,3.16],[-4.936,2.96],[-4.941,2.66],[-5.066,0.72],[-5.045,-1.7],[-4.969,-1.5],[-5.054,-1.74],[-4.946,-7.74],[-4.924,-12.3]];
const orangeC = [[-4.843,8.2],[-4.765,8.22],[-4.865,7.16],[-4.834,7.2],[-4.781,7.3],[-4.8,7.06],[-4.718,7.2],[-4.834,5.8],[-4.825,5.56],[-4.869,5.6],[-4.736,5.76],[-4.732,5.36],[-4.727,5.16],[-4.871,5.26],[-4.842,4.86],[-4.851,4.66],[-4.829,4.56],[-4.807,4.66],[-4.776,4.56],[-4.749,4.66],[-4.727,4.96],[-4.7,4.66],[-4.842,4.36],[-4.82,4.26],[-4.793,4.36],[-4.767,4.26],[-4.745,4.36],[-4.722,4.46],[-4.856,3.96],[-4.838,4.06],[-4.811,3.86],[-4.785,3.96],[-4.771,4.06],[-4.736,4.06],[-4.696,3.76],[-4.691,3.66],[-4.856,3.66],[-4.802,3.56],[-4.776,3.46],[-4.749,3.6],[-4.829,2.96],[-4.793,3.26],[-4.807,2.76],[-4.767,2.76],[-4.736,2.96],[-4.851,2.36],[-4.82,2.26],[-4.78,2.46],[-4.74,2.36],[-4.84,2.06],[-4.825,1.76],[-4.776,1.96],[-4.758,1.76],[-4.829,1.56],[-4.731,1.82],[-4.856,1.0],[-4.713,0.76],[-4.683,0.16],[-4.904,-0.4],[-4.875,-0.54],[-4.731,-0.54],[-4.8,-2.24],[-4.869,-3.04],[-4.78,-3.08],[-4.857,-3.5],[-4.782,-3.14],[-4.771,-3.88],[-4.823,-4.64],[-4.758,-6.9],[-4.836,-8.64]];
const curveC = [[-6.5,0.26],[-6.45,0.0],[-6.422,-0.24],[-6.38,-0.45],[-6.333,-0.68],[-6.2,-0.72],[-6.065,-0.68],[-5.931,-0.74],[-5.869,-0.78],[-5.798,-0.76],[-5.753,-0.64],[-5.709,-0.34],[-5.664,0.04],[-5.63,0.18],[-5.602,0.22],[-5.557,0.0],[-5.512,-0.24],[-5.47,-0.30],[-5.45,-0.34],[-5.423,-0.14],[-5.387,0.46],[-5.35,0.75],[-5.316,0.96],[-5.29,1.3],[-5.271,1.6],[-5.227,1.76],[-5.164,1.96],[-5.093,2.12],[-5.06,2.0],[-5.031,1.86],[-4.986,2.06],[-4.942,2.56],[-4.897,3.06],[-4.825,3.56],[-4.762,3.86],[-4.691,3.96],[-4.647,3.8],[-4.602,3.6],[-4.468,3.26],[-4.3,2.96]];
const bandXC = [-6.49,-6.42,-6.333,-6.2,-6.065,-5.931,-5.869,-5.798,-5.753,-5.709,-5.664,-5.602,-5.557,-5.512,-5.45,-5.423,-5.387,-5.316,-5.271,-5.227,-5.164,-5.093,-5.031,-4.986,-4.942,-4.897,-4.825,-4.762,-4.691,-4.647,-4.602,-4.468,-4.3];
const upC = [0.72,0.11,-0.46,-0.54,-0.50,-0.56,-0.58,-0.56,-0.44,-0.14,0.24,0.42,0.2,-0.04,-0.14,0.06,0.66,1.16,1.8,1.96,2.16,2.32,2.06,2.26,2.76,3.26,3.76,4.06,4.18,4.02,3.82,3.51,3.26];
const loC = [-0.28,-0.59,-0.90,-0.90,-0.86,-0.92,-0.98,-0.96,-0.84,-0.54,-0.16,0.02,-0.2,-0.44,-0.54,-0.34,0.26,0.76,1.4,1.56,1.76,1.92,1.66,1.86,2.36,2.86,3.36,3.66,3.74,3.58,3.38,3.01,2.66];
const meansC = [[-6.367,-0.14,0.4],[-6.204,-0.6,0.55],[-6.045,-0.68,0.1],[-5.945,-0.64,0.3],[-5.851,-0.4,0.3],[-5.755,-1.0,0.4],[-5.643,0.14,0.25],[-5.572,-0.08,0.15],[-5.514,-0.34,0.2],[-5.47,-0.04,0.3],[-5.436,-0.54,0.35],[-5.387,0.52,0.3],[-5.353,0.66,0.25],[-5.311,1.3,0.3],[-5.282,1.6,0.3],[-5.244,2.06,0.45],[-5.182,1.44,0.4],[-5.102,2.4,0.35],[-4.903,2.4,0.5],[-4.829,3.8,0.4],[-4.764,3.72,0.5],[-4.602,3.64,0.3],[-4.334,2.66,0.4]];

// ---------- build ----------
const panels = [
  {grey:greyA,purple:purpleA,teal:tealA,pink:pinkA,orange:orangeA,curve:curveA,bx:bandXA,up:upA,lo:loA,means:meansA,
   xr:[-6.5746,-3.95],yr:[-4.338,4.329],xt:xTicksAB,xl:xLabelsAB,yt:yTicksA,yl:yLabelsA,yd:1,top:19,h:377,sub:'X'},
  {grey:greyB,purple:purpleB,teal:tealB,pink:pinkB,orange:orangeB,curve:curveB,bx:bandXB,up:upB,lo:loB,means:meansB,
   xr:[-6.5746,-3.95],yr:[-5.377,5.386],xt:xTicksAB,xl:xLabelsAB,yt:yTicksB,yl:yLabelsB,yd:1,top:513,h:377,sub:'Y'},
  {grey:greyC,purple:purpleC,teal:tealC,pink:pinkC,orange:orangeC,curve:curveC,bx:bandXC,up:upC,lo:loC,means:meansC,
   xr:[-6.5803,-4.2242],yr:[-12.716,9.84],xt:xTicksC,xl:xLabelsC,yt:yTicksC,yl:yLabelsC,yd:0,top:1007,h:376,sub:'Z'}
];
const fmt = (v,d) => { let s = (Math.abs(v)<1e-9?0:v).toFixed(d); return s.replace('-', '−'); };

const grids=[], xAxes=[], yAxes=[], series=[];
panels.forEach((p,i)=>{
  grids.push({left:91, top:p.top, width:880, height:p.h, show:true, borderColor:'#000', borderWidth:1.5, backgroundColor:'transparent', containLabel:false, outerBoundsMode:'none'});
  xAxes.push({gridIndex:i, type:'value', min:p.xr[0], max:p.xr[1],
    axisLine:{show:true, onZero:false, lineStyle:{color:'#000', width:2}},
    axisTick:{show:true, inside:false, length:8, lineStyle:{color:'#000', width:1.5}, customValues:p.xt},
    axisLabel:{show:true, customValues:p.xl, formatter:v=>fmt(v,1), margin:20, color:'#000', fontSize:13, fontFamily:FONT, hideOverlap:false},
    splitLine:{show:false},
    name:'Declination [deg]', nameLocation:'middle', nameGap:39, nameMoveOverlap:false,
    nameTextStyle:{color:'#000', fontSize:29, fontFamily:FONT}});
  yAxes.push({gridIndex:i, type:'value', min:p.yr[0], max:p.yr[1],
    axisLine:{show:true, onZero:false, lineStyle:{color:'#000', width:2}},
    axisTick:{show:true, inside:false, length:8, lineStyle:{color:'#000', width:1.5}, customValues:p.yt},
    axisLabel:{show:true, customValues:p.yl, formatter:v=>fmt(v,p.yd), rotate:90, margin:16, color:'#000', fontSize:13, fontFamily:FONT, hideOverlap:false},
    splitLine:{show:false},
    name:'V{s|'+p.sub+'} [km/s]', nameLocation:'middle', nameRotate:90, nameGap:43, nameMoveOverlap:false,
    nameTextStyle:{color:'#000', fontSize:29, fontFamily:FONT, lineHeight:38,
      rich:{s:{fontSize:20, lineHeight:20, verticalAlign:'bottom', fontFamily:FONT, color:'#000'}}}});
  const gridLines = p.xt.map(v=>({xAxis:v})).concat(p.yt.map(v=>({yAxis:v})));
  series.push({type:'scatter', xAxisIndex:i, yAxisIndex:i, data:p.grey, symbolSize:4.5, itemStyle:{color:'#BEBEBE'}, z:2, silent:true,
    markLine:{silent:true, z:0, symbol:['none','none'], label:{show:false}, animation:false,
      lineStyle:{color:'#E2D9B8', width:1, type:[4,2,1,2]}, emphasis:{disabled:true}, data:gridLines},
    markArea:{silent:true, itemStyle:{color:'rgba(0,0,0,0)', borderWidth:0},
      label:{show:true, position:'insideTop', distance:8, fontSize:20, fontFamily:FONT},
      data: regionNames.map((n,k)=>[{xAxis:regionStart[k], name:n, label:{color:regionColors[k]}},{xAxis:regionEnd[k]}])}});
  const regionLines = [];
  regionNames.forEach((n,k)=>{
    regionLines.push({xAxis:regionStart[k], lineStyle:{color:regionColors[k]}});
    regionLines.push({xAxis:regionEnd[k], lineStyle:{color:regionColors[k]}});
  });
  series.push({type:'scatter', xAxisIndex:i, yAxisIndex:i, data:p.purple, symbolSize:6, itemStyle:{color:'#A020F0'}, z:3, silent:true,
    markLine:{silent:true, z:5, symbol:['none','none'], label:{show:false}, animation:false,
      lineStyle:{width:2, type:'solid'}, emphasis:{disabled:true}, data:regionLines}});
  series.push({type:'scatter', xAxisIndex:i, yAxisIndex:i, data:p.teal, symbolSize:6, itemStyle:{color:'#008B8B'}, z:3, silent:true});
  series.push({type:'scatter', xAxisIndex:i, yAxisIndex:i, data:p.pink, symbolSize:6, itemStyle:{color:'#FF1493'}, z:3, silent:true});
  series.push({type:'scatter', xAxisIndex:i, yAxisIndex:i, data:p.orange, symbolSize:6, itemStyle:{color:'#FFA500'}, z:3, silent:true});
  series.push({type:'line', xAxisIndex:i, yAxisIndex:i, data:p.bx.map((x,k)=>[x,p.up[k]]), showSymbol:false, smooth:0.3,
    lineStyle:{color:'#000', width:1, type:[4,3]}, z:6, silent:true});
  series.push({type:'line', xAxisIndex:i, yAxisIndex:i, data:p.bx.map((x,k)=>[x,p.lo[k]]), showSymbol:false, smooth:0.3,
    lineStyle:{color:'#000', width:1, type:[4,3]}, z:6, silent:true});
  series.push({type:'line', xAxisIndex:i, yAxisIndex:i, data:p.curve, showSymbol:false, smooth:0.3,
    lineStyle:{color:'#000', width:2.2}, z:7, silent:true});
  series.push({type:'custom', xAxisIndex:i, yAxisIndex:i, data:p.means, z:8, silent:true,
    renderItem:(params, api)=>{
      const x=api.value(0), y=api.value(1), e=api.value(2);
      const a=api.coord([x,y+e]), b=api.coord([x,y-e]);
      const st={stroke:'#00FF00', lineWidth:2};
      return {type:'group', children:[
        {type:'line', shape:{x1:a[0],y1:a[1],x2:b[0],y2:b[1]}, style:st},
        {type:'line', shape:{x1:a[0]-2,y1:a[1],x2:a[0]+2,y2:a[1]}, style:st},
        {type:'line', shape:{x1:b[0]-2,y1:b[1],x2:b[0]+2,y2:b[1]}, style:st}]};
    }});
  series.push({type:'scatter', xAxisIndex:i, yAxisIndex:i, data:p.means.map(m=>[m[0],m[1]]), symbolSize:10, itemStyle:{color:'#00FF00'}, z:9, silent:true});
});

const titleAB = 'Orion A; 83.6<R.A.<84: 829 stars (MEM=ON); σω<0.1 mas; flux−excess−cut OFF; α{s|locfit}=0.2; N{s|bin}=50 stars';
const titleC = 'Orion A: 1240 K18T09 stars (MEM=ON); 83.6<R.A.<84; α{s|locfit}=0.2; N{s|bin}=50 stars';
const titleStyle = (t,y)=>({type:'text', x:532, y:y, z:50, style:{text:t, align:'center', verticalAlign:'middle', fontSize:15.9, fontFamily:FONT, fill:'#000', lineHeight:21,
  rich:{s:{fontSize:11.5, lineHeight:11, verticalAlign:'bottom', fontFamily:FONT, fill:'#000'}}}});
const letter = (t,x,y)=>({type:'text', x:x, y:y, z:50, style:{text:t, align:'center', verticalAlign:'middle', fontSize:46, fontFamily:FONT, fill:'#000'}});

const chart = echarts.init(document.getElementById('c'), null, {renderer:'canvas'});
chart.setOption({
  animation:false, backgroundColor:'#fff',
  grid:grids, xAxis:xAxes, yAxis:yAxes, series:series,
  graphic:[titleStyle(titleAB,10), titleStyle(titleAB,504), titleStyle(titleC,998),
    letter('(a)',921,52), letter('(b)',918,550), letter('(c)',922,1041)]
});
</script></body></html>
